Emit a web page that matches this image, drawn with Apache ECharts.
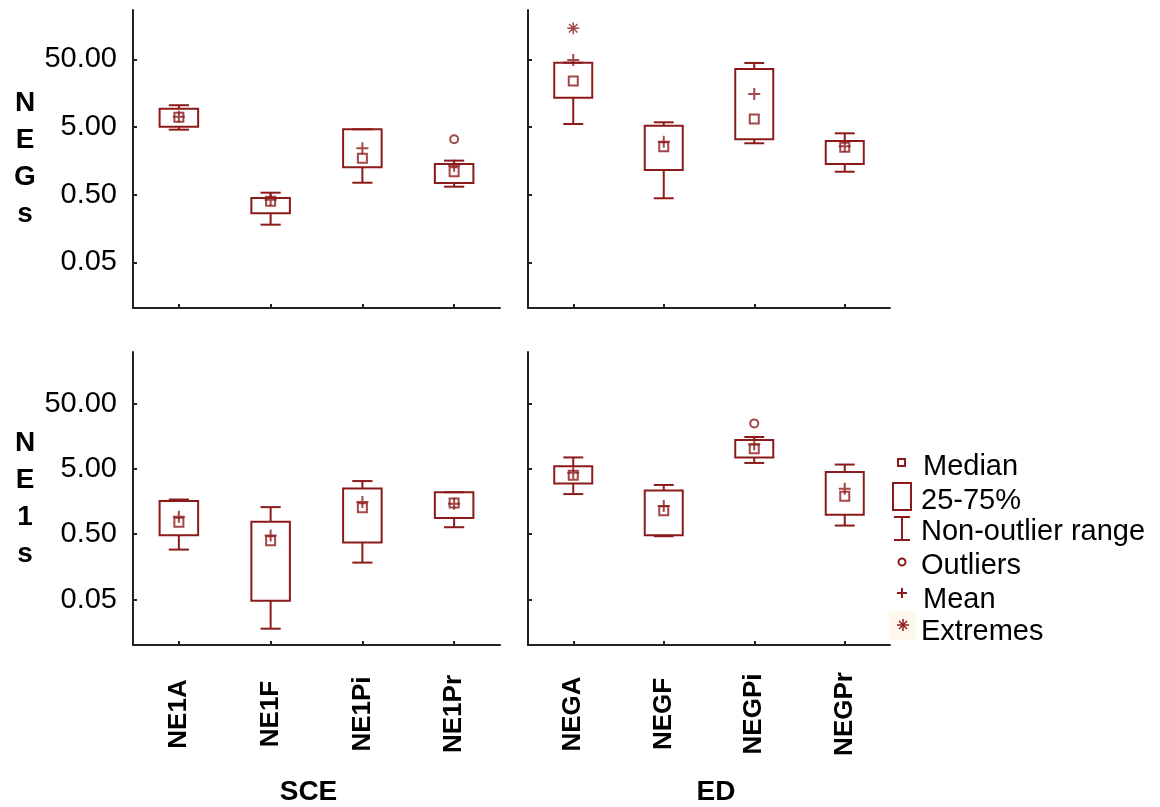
<!DOCTYPE html>
<html>
<head>
<meta charset="utf-8">
<title>NEGs / NE1s box plots</title>
<script src="https://cdn.jsdelivr.net/npm/echarts@6/dist/echarts.min.js"></script>
<style>
  html, body { margin: 0; padding: 0; background: #ffffff; }
  #chart { width: 1160px; height: 807px; }
</style>
</head>
<body>
<div id="chart"></div>
<script>
// ---- categories ----
const CATS_SCE = ['NE1A', 'NE1F', 'NE1Pi', 'NE1Pr'];
const CATS_ED = ['NEGA', 'NEGF', 'NEGPi', 'NEGPr'];

// ---- y tick values (log scale) and their labels ----
const TICK_VALUES = [0.05, 0.5, 5, 50];
const TICK_LABELS = ['0.05', '0.50', '5.00', '50.00'];

// ---- box statistics per category: [non-outlier min, 25%, median, 75%, non-outlier max] ----
const NEGS_SCE_BOX = [
  [4.56, 5.05, 6.95, 9.31, 10.47],
  [0.180, 0.265, 0.40, 0.447, 0.534],
  [0.75, 1.27, 1.72, 4.62, 4.62],
  [0.655, 0.743, 1.09, 1.42, 1.59]
];
const NEGS_SCE_MEAN = [7.10, 0.42, 2.42, 1.34];
const NEGS_SCE_OUTLIERS = [[3, 3.29]];
const NEGS_SCE_EXTREMES = [];

const NEGS_ED_BOX = [
  [5.53, 13.5, 23.9, 44.5, 44.5],
  [0.442, 1.16, 2.55, 5.22, 5.86],
  [2.87, 3.29, 6.56, 35.9, 44.1],
  [1.09, 1.42, 2.50, 3.10, 4.03]
];
const NEGS_ED_MEAN = [48.9, 3.03, 15.3, 2.6];
const NEGS_ED_OUTLIERS = [];
const NEGS_ED_EXTREMES = [[0, 143.6]];

const NE1S_SCE_BOX = [
  [0.291, 0.482, 0.760, 1.62, 1.70],
  [0.0179, 0.0479, 0.396, 0.778, 1.30],
  [0.184, 0.375, 1.27, 2.50, 3.26],
  [0.640, 0.883, 1.51, 2.20, 2.20]
];
const NE1S_SCE_MEAN = [0.93, 0.48, 1.56, 1.47];
const NE1S_SCE_OUTLIERS = [];
const NE1S_SCE_EXTREMES = [];

const NE1S_ED_BOX = [
  [2.06, 3.00, 4.00, 5.51, 7.50],
  [0.466, 0.482, 1.14, 2.33, 2.84],
  [6.17, 7.50, 10.2, 13.8, 15.4],
  [0.679, 0.99, 1.90, 4.48, 5.83]
];
const NE1S_ED_MEAN = [4.37, 1.35, 11.8, 2.48];
const NE1S_ED_OUTLIERS = [[2, 24.9]];
const NE1S_ED_EXTREMES = [];

// ---- styling ----
const MARK_COLOR = '#8c1a1a';
const AXIS_COLOR = '#222222';
const FONT = '"Liberation Sans", Arial, sans-serif';

const lg = Math.log10;
const TICK_LOGS = TICK_VALUES.map(lg);

function tickLabel(v) {
  for (let i = 0; i < TICK_LOGS.length; i++) {
    if (Math.abs(TICK_LOGS[i] - v) < 1e-6) return TICK_LABELS[i];
  }
  return '';
}

// Panel layout: grid box [left, top, width, height] and log10 axis range
const panels = [
  { grid: [133, 10, 367, 298], range: [-1.976, 2.427], cats: CATS_SCE, box: NEGS_SCE_BOX, mean: NEGS_SCE_MEAN, out: NEGS_SCE_OUTLIERS, ext: NEGS_SCE_EXTREMES, yLabels: true, xLabels: false, yName: 'N\nE\nG\ns', yPad: [14, 0, 0, 0] },
  { grid: [528, 10, 362, 298], range: [-1.976, 2.427], cats: CATS_ED, box: NEGS_ED_BOX, mean: NEGS_ED_MEAN, out: NEGS_ED_OUTLIERS, ext: NEGS_ED_EXTREMES, yLabels: false, xLabels: false },
  { grid: [133, 352, 367, 301], range: [-1.997, 2.489], cats: CATS_SCE, box: NE1S_SCE_BOX, mean: NE1S_SCE_MEAN, out: NE1S_SCE_OUTLIERS, ext: NE1S_SCE_EXTREMES, yLabels: true, xLabels: true, yName: 'N\nE\n1\ns', xName: 'SCE', xPad: [0, 16, 0, 0] },
  { grid: [528, 352, 362, 301], range: [-1.997, 2.489], cats: CATS_ED, box: NE1S_ED_BOX, mean: NE1S_ED_MEAN, out: NE1S_ED_OUTLIERS, ext: NE1S_ED_EXTREMES, yLabels: false, xLabels: true, xName: 'ED', xPad: [0, 0, 0, 14] }
];

const PLUS_PATH = 'path://M0,6L12,6M6,0L6,12';
const STAR_PATH = 'path://M0,6L12,6M6,0L6,12M1.8,1.8L10.2,10.2M10.2,1.8L1.8,10.2';

function renderBox(params, api) {
  const x = api.value(0);
  const pQ1 = api.coord([x, api.value(1)]);
  const pQ3 = api.coord([x, api.value(2)]);
  const w = api.size([1, 0])[0] * 0.42;
  return {
    type: 'rect',
    shape: { x: pQ3[0] - w / 2, y: pQ3[1], width: w, height: pQ1[1] - pQ3[1] },
    style: { fill: 'none', stroke: MARK_COLOR, lineWidth: 2 }
  };
}

function renderWhisker(params, api) {
  const x = api.value(0);
  const pLow = api.coord([x, api.value(1)]);
  const pHigh = api.coord([x, api.value(2)]);
  const pQ1 = api.coord([x, api.value(3)]);
  const pQ3 = api.coord([x, api.value(4)]);
  const half = api.size([1, 0])[0] * 0.11;
  const style = { stroke: MARK_COLOR, lineWidth: 2, fill: null };
  return {
    type: 'group',
    children: [
      { type: 'line', shape: { x1: pHigh[0], y1: pHigh[1], x2: pQ3[0], y2: pQ3[1] }, style: style },
      { type: 'line', shape: { x1: pQ1[0], y1: pQ1[1], x2: pLow[0], y2: pLow[1] }, style: style },
      { type: 'line', shape: { x1: pHigh[0] - half, y1: pHigh[1], x2: pHigh[0] + half, y2: pHigh[1] }, style: style },
      { type: 'line', shape: { x1: pLow[0] - half, y1: pLow[1], x2: pLow[0] + half, y2: pLow[1] }, style: style }
    ]
  };
}

const grids = [], xAxes = [], yAxes = [], series = [];

panels.forEach(function (p, i) {
  grids.push({ left: p.grid[0], top: p.grid[1], width: p.grid[2], height: p.grid[3], containLabel: false });

  xAxes.push({
    type: 'category',
    gridIndex: i,
    data: p.cats,
    boundaryGap: true,
    axisLine: { onZero: false, lineStyle: { color: AXIS_COLOR, width: 2 } },
    axisTick: { show: true, inside: true, length: 4, alignWithLabel: true, lineStyle: { color: AXIS_COLOR, width: 2 } },
    axisLabel: {
      show: p.xLabels, rotate: 90, align: 'center', verticalAlign: 'middle', margin: 69,
      fontFamily: FONT, fontSize: 26, fontWeight: 'bold', color: '#000', interval: 0
    },
    splitLine: { show: false },
    name: p.xName || '',
    nameLocation: 'middle',
    nameGap: 133,
    nameTextStyle: { fontFamily: FONT, fontSize: 28, fontWeight: 'bold', color: '#000', padding: p.xPad || 0 }
  });

  yAxes.push({
    type: 'value',
    gridIndex: i,
    min: p.range[0],
    max: p.range[1],
    axisLine: { show: true, onZero: false, lineStyle: { color: AXIS_COLOR, width: 2 } },
    axisTick: { show: true, inside: true, length: 4, customValues: TICK_LOGS, lineStyle: { color: AXIS_COLOR, width: 2 } },
    axisLabel: {
      show: p.yLabels, customValues: TICK_LOGS, formatter: tickLabel, margin: 16,
      fontFamily: FONT, fontSize: 29, color: '#000'
    },
    splitLine: { show: false },
    name: p.yName || '',
    nameLocation: 'middle',
    nameRotate: 0,
    nameGap: 108,
    nameTextStyle: { fontFamily: FONT, fontSize: 28, fontWeight: 'bold', color: '#000', lineHeight: 37, align: 'center', padding: p.yPad || 0 }
  });

  const boxData = p.box.map(function (b, k) { return [k, lg(b[1]), lg(b[3])]; });
  const whiskerData = p.box.map(function (b, k) { return [k, lg(b[0]), lg(b[4]), lg(b[1]), lg(b[3])]; });
  const medianData = p.box.map(function (b, k) { return [k, lg(b[2])]; });
  const meanData = p.mean.map(function (m, k) { return [k, lg(m)]; });
  const outData = p.out.map(function (o) { return [o[0], lg(o[1])]; });
  const extData = p.ext.map(function (e) { return [e[0], lg(e[1])]; });

  series.push({
    name: '25-75%', type: 'custom', xAxisIndex: i, yAxisIndex: i,
    renderItem: renderBox, data: boxData, encode: { x: 0, y: [1, 2] }, z: 2, silent: true
  });
  series.push({
    name: 'Non-outlier range', type: 'custom', xAxisIndex: i, yAxisIndex: i,
    renderItem: renderWhisker, data: whiskerData, encode: { x: 0, y: [1, 2, 3, 4] }, z: 2, silent: true
  });
  series.push({
    name: 'Median', type: 'scatter', xAxisIndex: i, yAxisIndex: i, data: medianData,
    symbol: 'rect', symbolSize: 9, z: 3, silent: true,
    itemStyle: { color: 'rgba(0,0,0,0)', borderColor: MARK_COLOR, borderWidth: 2 }
  });
  series.push({
    name: 'Mean', type: 'scatter', xAxisIndex: i, yAxisIndex: i, data: meanData,
    symbol: PLUS_PATH, symbolSize: 12, z: 4, silent: true,
    itemStyle: { color: 'rgba(0,0,0,0)', borderColor: MARK_COLOR, borderWidth: 2 }
  });
  series.push({
    name: 'Outliers', type: 'scatter', xAxisIndex: i, yAxisIndex: i, data: outData,
    symbol: 'circle', symbolSize: 8, z: 3, silent: true,
    itemStyle: { color: 'rgba(0,0,0,0)', borderColor: MARK_COLOR, borderWidth: 2 }
  });
  series.push({
    name: 'Extremes', type: 'scatter', xAxisIndex: i, yAxisIndex: i, data: extData,
    symbol: STAR_PATH, symbolSize: 12, z: 3, silent: true,
    itemStyle: { color: 'rgba(0,0,0,0)', borderColor: MARK_COLOR, borderWidth: 1.5 }
  });
});

// ---- key to the symbols, drawn at the right ----
const KEY_STROKE = { stroke: MARK_COLOR, lineWidth: 2, fill: null };
const KEY_THIN = { stroke: MARK_COLOR, lineWidth: 1.5, fill: null };
const KEY_TEXT = { font: '29px ' + FONT, fill: '#000', align: 'left', verticalAlign: 'middle' };
function keyText(label, x, y) {
  return { type: 'text', style: Object.assign({ text: label, x: x, y: y }, KEY_TEXT) };
}
const keyElements = [
  // Median
  { type: 'rect', shape: { x: 898, y: 459, width: 7, height: 7 }, style: KEY_STROKE },
  keyText('Median', 923, 467),
  // 25-75%
  { type: 'rect', shape: { x: 893, y: 483, width: 18, height: 27 }, style: KEY_STROKE },
  keyText('25-75%', 921, 501),
  // Non-outlier range
  { type: 'line', shape: { x1: 902, y1: 517, x2: 902, y2: 540 }, style: KEY_STROKE },
  { type: 'line', shape: { x1: 894, y1: 517, x2: 910, y2: 517 }, style: KEY_STROKE },
  { type: 'line', shape: { x1: 894, y1: 540, x2: 910, y2: 540 }, style: KEY_STROKE },
  keyText('Non-outlier range', 921, 532),
  // Outliers
  { type: 'circle', shape: { cx: 902, cy: 562, r: 3.5 }, style: KEY_STROKE },
  keyText('Outliers', 921, 566),
  // Mean
  { type: 'line', shape: { x1: 897, y1: 593, x2: 907, y2: 593 }, style: KEY_STROKE },
  { type: 'line', shape: { x1: 902, y1: 588, x2: 902, y2: 598 }, style: KEY_STROKE },
  keyText('Mean', 923, 600),
  // Extremes
  { type: 'rect', shape: { x: 889, y: 611, width: 27, height: 29 }, style: { fill: '#fdf7ec' } },
  { type: 'line', shape: { x1: 897, y1: 625, x2: 909, y2: 625 }, style: KEY_THIN },
  { type: 'line', shape: { x1: 903, y1: 619, x2: 903, y2: 631 }, style: KEY_THIN },
  { type: 'line', shape: { x1: 899, y1: 621, x2: 907, y2: 629 }, style: KEY_THIN },
  { type: 'line', shape: { x1: 907, y1: 621, x2: 899, y2: 629 }, style: KEY_THIN },
  keyText('Extremes', 921, 632)
];

const chart = echarts.init(document.getElementById('chart'), null, { renderer: 'canvas' });
chart.setOption({
  backgroundColor: '#ffffff',
  animation: false,
  grid: grids,
  xAxis: xAxes,
  yAxis: yAxes,
  series: series,
  graphic: keyElements.map(function (e) { return Object.assign({ z: 10, silent: true }, e); })
});
</script>
</body>
</html>
